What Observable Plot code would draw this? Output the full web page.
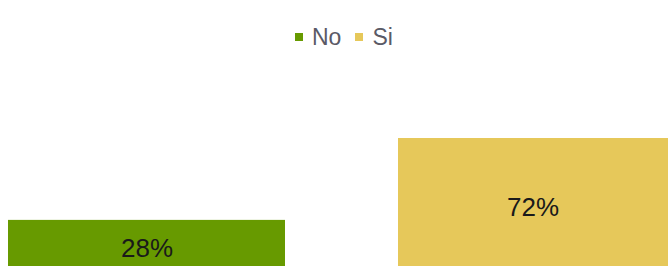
<!DOCTYPE html>
<html>
<head>
<meta charset="utf-8">
<script src="https://cdn.jsdelivr.net/npm/d3@7"></script>
<script src="https://cdn.jsdelivr.net/npm/@observablehq/plot@0.6"></script>
<style>
  html, body { margin: 0; padding: 0; background: #fff; overflow: hidden; }
  #wrap { position: relative; width: 668px; height: 266px; overflow: hidden; font-family: "Liberation Sans", Arial, sans-serif; }
  #legend { position: absolute; top: 24px; left: 295px; height: 26px; display: flex; align-items: center; font-size: 23px; color: #5a5a66; z-index: 2; line-height: 26px; }
  #legend .item { display: flex; align-items: center; }
  #legend .item + .item { margin-left: 14px; }
  #legend .sw { width: 8px; height: 8px; margin-right: 9px; margin-top: 0px; }
  #chart { position: absolute; top: 0; left: 0; }
</style>
</head>
<body>
<div id="wrap">
  <div id="legend"></div>
  <div id="chart"></div>
</div>
<script>
const categories = ["No", "Si"];
const values = [28, 72];
const labels = ["28%", "72%"];
const colors = ["#679a00", "#e6c85a"];

const data = categories.map((c, i) => ({cat: c, value: values[i], label: labels[i]}));

const legend = document.getElementById("legend");
categories.forEach((c, i) => {
  const item = document.createElement("span");
  item.className = "item";
  const sw = document.createElement("span");
  sw.className = "sw";
  sw.style.background = colors[i];
  item.appendChild(sw);
  const t = document.createElement("span");
  t.textContent = c;
  item.appendChild(t);
  legend.appendChild(item);
});

const chart = Plot.plot({
  width: 668,
  height: 266,
  margin: 0,
  style: {background: "transparent", fontFamily: "Liberation Sans, Arial, sans-serif"},
  x: {domain: categories, range: [8, 675], paddingInner: 0.29, paddingOuter: 0, axis: null},
  y: {domain: [0, 72], range: [272, 138], axis: null},
  color: {domain: categories, range: colors},
  marks: [
    Plot.barY(data, {x: "cat", y: "value", fill: "cat"}),
    Plot.text(data, {filter: d => d.cat === "No", x: "cat", y: d => d.value / 2, text: "label", dy: 2, fontSize: 26, fill: "#1a1a1a"}),
    Plot.text(data, {filter: d => d.cat === "Si", x: "cat", y: d => d.value / 2, text: "label", dy: 2, dx: -4, fontSize: 26, fill: "#1a1a1a"})
  ]
});
document.getElementById("chart").appendChild(chart);
</script>
</body>
</html>
